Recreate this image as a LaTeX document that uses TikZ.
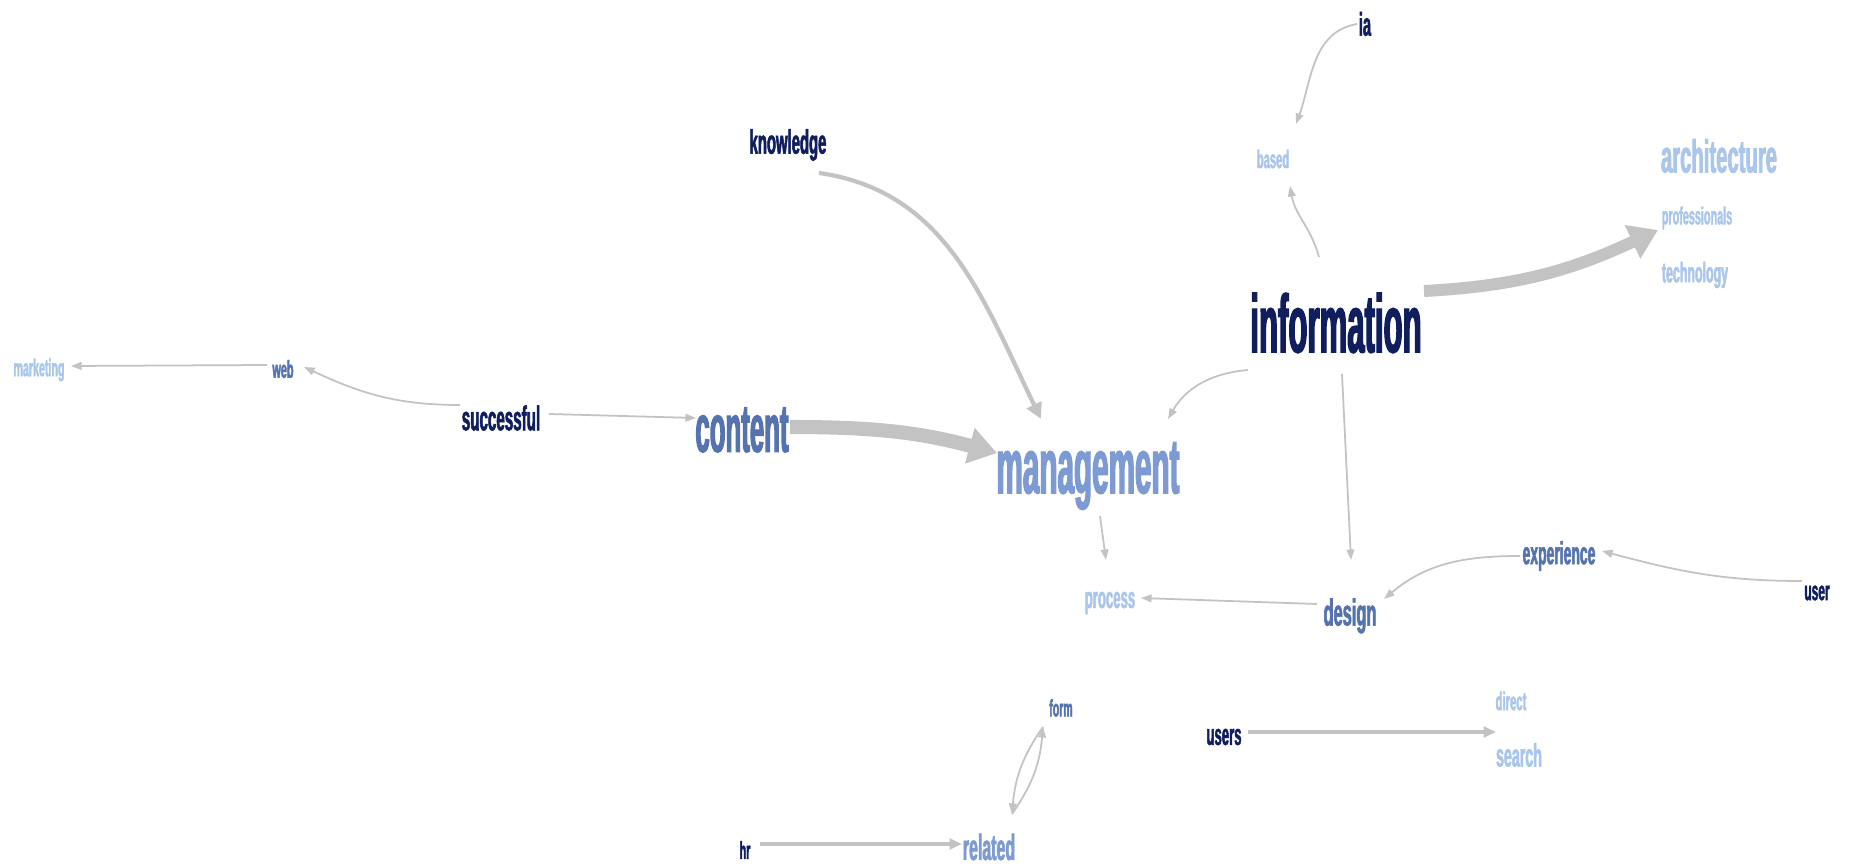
\documentclass[tikz,border=0pt]{standalone}
\usepackage{fontspec}
\newfontfamily\wordfont[FakeStretch=0.44,FakeBold=1.6]{Liberation Sans}
\newfontfamily\bigwordfont[FakeStretch=0.38,FakeBold=1.6]{Liberation Sans}
\usetikzlibrary{arrows.meta}
\definecolor{navyword}{RGB}{16,30,94}
\definecolor{midword}{RGB}{85,115,175}
\definecolor{softword}{RGB}{125,155,210}
\definecolor{paleword}{RGB}{170,198,235}
\definecolor{linkgray}{RGB}{195,195,195}
\tikzset{
  word/.style={inner sep=0pt,font=\wordfont\bfseries\fontsize{#1}{#1}\selectfont},
  bigword/.style={inner sep=0pt,font=\bigwordfont\bfseries\fontsize{#1}{#1}\selectfont},
  dark/.style={text=navyword},
  mid/.style={text=midword},
  soft/.style={text=softword},
  pale/.style={text=paleword},
  link/.style={draw=linkgray,line width=0.5pt,-{Triangle[length=3pt,width=2.2pt]}},
  midlink/.style={draw=linkgray,line width=0.9pt,-{Triangle[length=3.5pt,width=3pt]}},
  wide/.style={draw=linkgray,line width=1.2pt,-{Triangle[length=4.5pt,width=4.5pt]}},
  heavy/.style={draw=linkgray,line width=#1,-{Triangle[length=8pt,width=10pt]}}
}

\begin{document}
\begin{tikzpicture}[x=0.01cm,y=0.01cm]
\fill[white] (0,0) rectangle (1850,-867);
\useasboundingbox (0,0) rectangle (1850,-867);

\node[word=9.3,dark] (ia) at (1365,-24) {ia};
\node[word=7.2,pale] (based) at (1273,-159) {based};
\node[word=13.1,pale] (architecture) at (1719,-156) {architecture};
\node[word=7,pale] (professionals) at (1697,-218) {professionals};
\node[word=8,pale] (technology) at (1695,-275) {technology};
\node[word=9.6,dark] (knowledge) at (788,-145) {knowledge};
\node[bigword=23.3,dark] (information) at (1336,-323) {information};

\node[word=6.9,pale] (marketing) at (39,-370) {marketing};
\node[word=7,mid] (web) at (283,-369) {web};
\node[word=9.8,dark] (successful) at (501,-418) {successful};
\node[bigword=19.3,mid] (content) at (742,-430) {content};
\node[bigword=22.2,soft] (management) at (1088,-476) {management};

\node[word=8.5,pale] (process) at (1110,-603) {process};
\node[word=10.6,mid] (design) at (1350,-616) {design};
\node[word=9,mid] (experience) at (1559,-556) {experience};
\node[word=7.7,dark] (user) at (1817,-593) {user};

\node[word=6.8,mid] (form) at (1061,-708) {form};
\node[word=10.3,soft] (related) at (989,-847) {related};
\node[word=7,dark] (hr) at (745,-850) {hr};
\node[word=8.5,dark] (users) at (1224,-737) {users};
\node[word=7.3,pale] (direct) at (1511,-701) {direct};
\node[word=9.2,pale] (search) at (1519,-755) {search};

% strong links
\draw[heavy=4pt] ([shift={(48,3)}]content.center) to[out=0,in=165] ([shift={(-91,23)}]management.center);
\draw[heavy=3.4pt] ([shift={(88,32)}]information.center) to[out=3,in=205] ([shift={(-39,-12)}]professionals.center);
\draw[wide] ([shift={(31,-28)}]knowledge.center) to[out=-8,in=116] ([shift={(-47,57)}]management.center);

\draw[link] ([shift={(-88,-47)}]information.center) to[out=185,in=60] ([shift={(80,57)}]management.center);
\draw[link] ([shift={(-17,66)}]information.center) to[out=105,in=-80] ([shift={(17,-27)}]based.center);
\draw[link] ([shift={(-8,0)}]ia.center) to[out=190,in=70] ([shift={(23,35)}]based.center);
\draw[link] ([shift={(6,-51)}]information.center) -- ([shift={(1,56)}]design.center);
\draw[link] ([shift={(12,-40)}]management.center) -- ([shift={(-4,43)}]process.center);
\draw[link] ([shift={(-33,12)}]design.center) -- ([shift={(31,5)}]process.center);
\draw[link] ([shift={(-39,0)}]experience.center) to[out=180,in=40] ([shift={(34,17)}]design.center);
\draw[link] ([shift={(-15,12)}]user.center) to[out=180,in=-15] ([shift={(43,5)}]experience.center);

\draw[link] ([shift={(-41,13)}]successful.center) to[out=180,in=-25] ([shift={(21,2)}]web.center);
\draw[link] ([shift={(-16,4)}]web.center) -- ([shift={(32,4)}]marketing.center);
\draw[link] ([shift={(48,4)}]successful.center) -- ([shift={(-46,12)}]content.center);

% bottom row
\draw[midlink] ([shift={(15,6)}]hr.center) -- ([shift={(-27,3)}]related.center);
\draw[link] ([shift={(23,33)}]related.center) to[out=55,in=-95] ([shift={(-18,-19)}]form.center);
\draw[link] ([shift={(-18,-19)}]form.center) to[out=-125,in=85] ([shift={(23,33)}]related.center);
\draw[midlink] ([shift={(24,5)}]users.center) -- ([shift={(-23,23)}]search.center);
\end{tikzpicture}
\end{document}
